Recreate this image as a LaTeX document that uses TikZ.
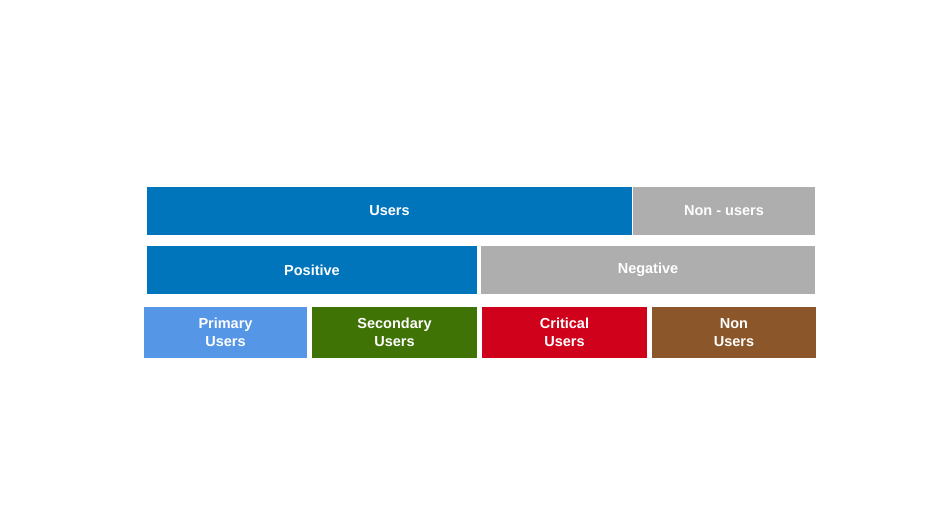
\documentclass[tikz,border=0pt]{standalone}
\usepackage{fontspec}
\setmainfont{Liberation Sans}
\definecolor{userblue}{HTML}{0075BC}
\definecolor{nongrey}{HTML}{AEAEAE}
\definecolor{primblue}{HTML}{5596E6}
\definecolor{secgreen}{HTML}{3F7305}
\definecolor{critred}{HTML}{D0021B}
\definecolor{nonbrown}{HTML}{8B572A}
\tikzset{
    bar/.style={inner sep=0pt, text=white, align=center,
        font=\fontsize{14.5}{18}\selectfont\bfseries}
}
\begin{document}
\begin{tikzpicture}[x=1pt, y=-1pt]
    \useasboundingbox (0,0) rectangle (933,522);
    % top row
    \node[bar, fill=userblue, minimum width=485pt, minimum height=48pt] (users) at (389.5,211) {Users};
    \node[bar, fill=nongrey, minimum width=182pt, minimum height=48pt] (nonusers) at (724,211) {Non - users};
    % middle row
    \node[bar, fill=userblue, minimum width=330pt, minimum height=48pt] (positive) at (312,270) {Positive};
    \node[bar, fill=nongrey, minimum width=334pt, minimum height=48pt] (negative) at (648,270) {Negative};
    % bottom row
    \node[bar, fill=primblue, minimum width=163pt, minimum height=51pt] (primary) at (225.5,332.5) {Primary\\Users};
    \node[bar, fill=secgreen, minimum width=165pt, minimum height=51pt] (secondary) at (394.5,332.5) {Secondary\\Users};
    \node[bar, fill=critred, minimum width=165pt, minimum height=51pt] (critical) at (564.5,332.5) {Critical\\Users};
    \node[bar, fill=nonbrown, minimum width=164pt, minimum height=51pt] (non) at (734,332.5) {Non\\Users};
\end{tikzpicture}
\end{document}
